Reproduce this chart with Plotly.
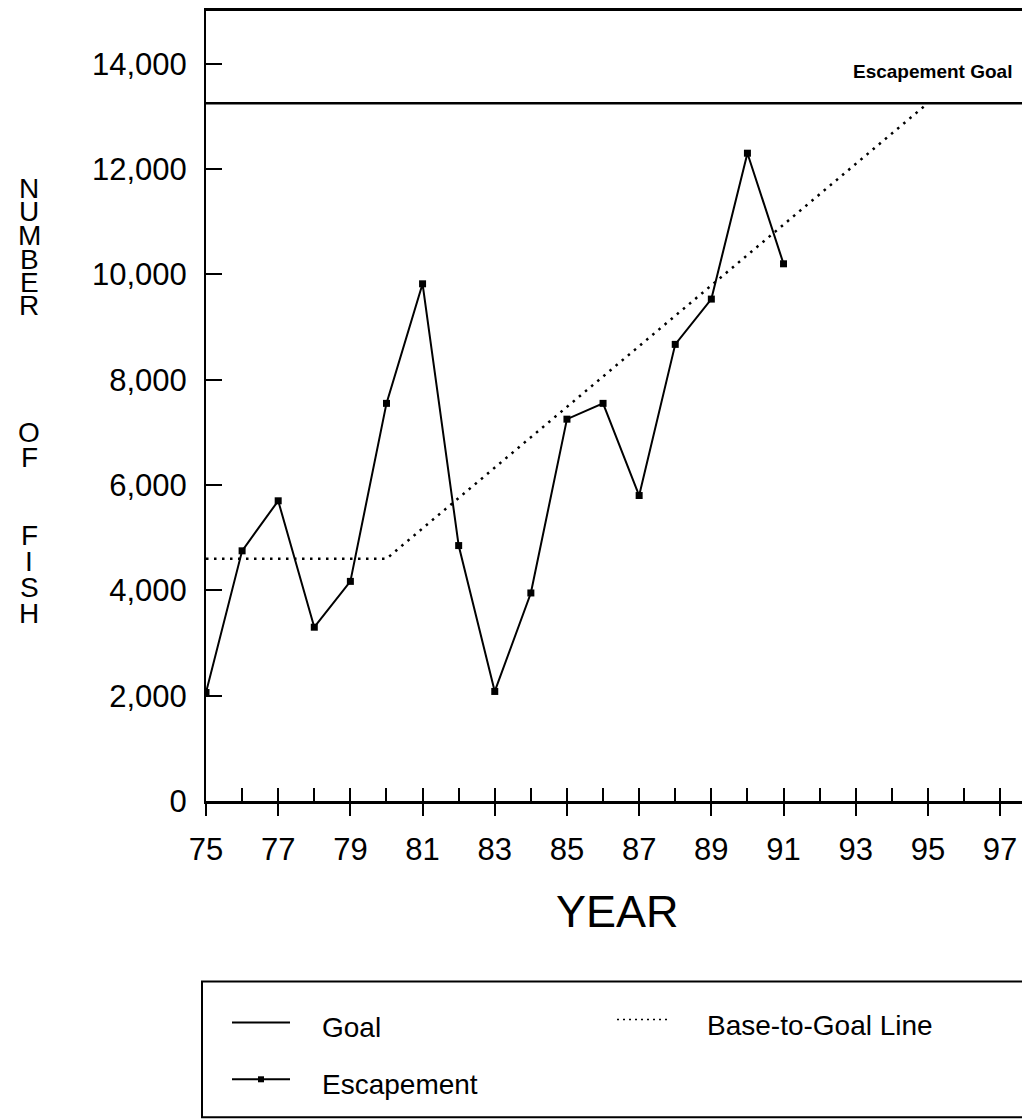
import plotly.graph_objects as go

# ---- data ----
years = [75, 76, 77, 78, 79, 80, 81, 82, 83, 84, 85, 86, 87, 88, 89, 90, 91]
escapement = [2060, 4750, 5700, 3300, 4170, 7550, 9820, 4850, 2080, 3950,
              7250, 7550, 5800, 8670, 9530, 12300, 10200]
goal_value = 13250
goal_years = [75, 99]
base_years = [75, 80, 95]
base_values = [4600, 4600, 13250]
x_tick_years = [75, 77, 79, 81, 83, 85, 87, 89, 91, 93, 95, 97]
y_tick_values = [0, 2000, 4000, 6000, 8000, 10000, 12000, 14000]
y_tick_labels = ["0", "2,000", "4,000", "6,000", "8,000", "10,000", "12,000", "14,000"]
y_title_letters = ["N", "U", "M", "B", "E", "R", "O", "F", "F", "I", "S", "H"]

FONT = "Liberation Sans, Arial, sans-serif"
OFF = 8  # page body margin
W, H = 1030, 1120
L, R, T, B = 198, 0, 1, 327
PW, PH = W - L - R, H - T - B


def px(xp):
    # screen pixel -> paper x
    return (xp - OFF - L) / PW


def py(yp):
    # screen pixel -> paper y
    return (H - B - (yp - OFF)) / PH


fig = go.Figure()

fig.add_trace(go.Scatter(x=goal_years, y=[goal_value] * len(goal_years), mode="lines",
                         line=dict(color="black", width=2.5), name="Goal",
                         showlegend=False))
fig.add_trace(go.Scatter(x=base_years, y=base_values, mode="lines",
                         line=dict(color="black", width=2.5, dash="2.5px,5.5px"),
                         name="Base-to-Goal Line", showlegend=False))
fig.add_trace(go.Scatter(x=years, y=escapement, mode="lines+markers",
                         line=dict(color="black", width=2),
                         marker=dict(symbol="square", size=7, color="black"),
                         name="Escapement", showlegend=False))
# invisible trace to carry the minor-tick axis
fig.add_trace(go.Scatter(x=[75], y=[0], xaxis="x2", mode="markers",
                         marker=dict(opacity=0), showlegend=False, hoverinfo="skip"))

XR = [75, 98.05]
fig.update_layout(
    width=W, height=H, autosize=False,
    margin=dict(l=L, r=R, t=T, b=B),
    paper_bgcolor="white", plot_bgcolor="white",
    font=dict(family=FONT, color="black"),
    showlegend=False,
    xaxis=dict(range=XR, tickmode="array", tickvals=x_tick_years,
               ticktext=[str(v) for v in x_tick_years],
               ticks="outside", ticklen=12, tickwidth=1.5, tickcolor="black",
               showline=True, linewidth=2.5, linecolor="black", mirror=True,
               showgrid=False, zeroline=False,
               tickfont=dict(size=31, family=FONT, color="black"),
               ticklabelstandoff=7),
    xaxis2=dict(range=XR, overlaying="x", matches="x", side="bottom",
                tickmode="linear", tick0=75, dtick=1,
                ticks="inside", ticklen=13, tickwidth=1.5, tickcolor="black",
                showticklabels=False, showline=False, showgrid=False, zeroline=False),
    yaxis=dict(range=[0, 15000], tickmode="array", tickvals=y_tick_values,
               ticktext=y_tick_labels, ticks="inside", ticklen=16, tickwidth=2,
               tickcolor="black", showline=True, linewidth=2, linecolor="black",
               mirror=False, showgrid=False, zeroline=False,
               tickfont=dict(size=31, family=FONT, color="black"),
               ticklabelstandoff=11),
)

annotations = []
# x axis title
annotations.append(dict(text="YEAR", x=px(617), y=py(912), xref="paper", yref="paper",
                        showarrow=False, font=dict(size=45, family=FONT, color="black"),
                        xanchor="center", yanchor="middle"))
# goal label
annotations.append(dict(text="<b>Escapement Goal</b>", x=px(1014), y=py(70), xref="paper",
                        yref="paper", showarrow=False,
                        font=dict(size=19, family=FONT, color="black"),
                        xanchor="right", yanchor="middle"))
# stacked y title
letter_y = [187, 210, 234, 258, 281, 304, 432, 457, 535, 561, 587, 613]
for ch, yy in zip(y_title_letters, letter_y):
    annotations.append(dict(text=ch, x=px(29), y=py(yy), xref="paper", yref="paper",
                            showarrow=False, font=dict(size=28, family=FONT, color="black"),
                            xanchor="center", yanchor="middle"))
# legend texts
for txt, xx, yy in [("Goal", 320, 1028), ("Escapement", 320, 1085),
                    ("Base-to-Goal Line", 705, 1026)]:
    annotations.append(dict(text=txt, x=px(xx), y=py(yy), xref="paper", yref="paper",
                            showarrow=False, font=dict(size=28, family=FONT, color="black"),
                            xanchor="left", yanchor="middle"))
fig.update_layout(annotations=annotations)

shapes = []
# legend box
shapes.append(dict(type="rect", xref="paper", yref="paper", x0=px(202), x1=px(1028),
                   y0=py(982), y1=py(1118), line=dict(color="black", width=2)))
# legend samples
shapes.append(dict(type="line", xref="paper", yref="paper", x0=px(232), x1=px(290),
                   y0=py(1023), y1=py(1023), line=dict(color="black", width=2)))
shapes.append(dict(type="line", xref="paper", yref="paper", x0=px(232), x1=px(290),
                   y0=py(1080), y1=py(1080), line=dict(color="black", width=2)))
shapes.append(dict(type="rect", xref="paper", yref="paper", x0=px(258), x1=px(264),
                   y0=py(1077), y1=py(1083), fillcolor="black", line=dict(width=0)))
shapes.append(dict(type="line", xref="paper", yref="paper", x0=px(617), x1=px(668),
                   y0=py(1020), y1=py(1020), line=dict(color="black", width=1.5, dash="2px,4px")))
# y axis extension below the x axis
shapes.append(dict(type="line", xref="paper", yref="paper", x0=0, x1=0,
                   y0=py(812), y1=0, line=dict(color="black", width=2)))
fig.update_layout(shapes=shapes)

fig.write_html("out.html")
